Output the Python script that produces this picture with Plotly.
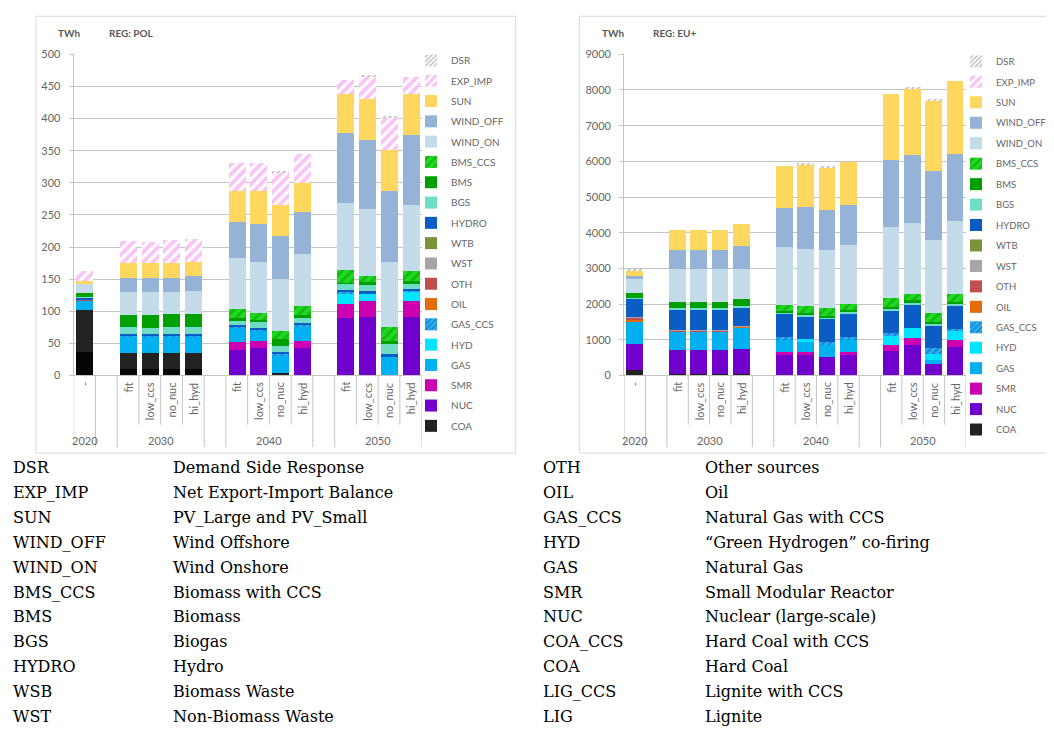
import plotly.graph_objects as go

# The page has an 8px body margin; positions below are page pixels of the target.
OFF = 8
W, H = 1054, 733

# ---------------- data ----------------
SCEN = ["fit", "low_ccs", "no_nuc", "hi_hyd"]
GROUPS = [("2020", ["-"]), ("2030", SCEN), ("2040", SCEN), ("2050", SCEN)]

SERIES = ["LIG", "COA", "NUC", "SMR", "GAS", "HYD", "GAS_CCS", "OIL", "OTH", "WST",
          "WTB", "HYDRO", "BGS", "BMS", "BMS_CCS", "WIND_ON", "WIND_OFF", "SUN",
          "EXP_IMP", "DSR"]

# order of bars: 2020 -, 2030 x4, 2040 x4, 2050 x4  (TWh)
POL_LIG      = [36, 9, 9, 9, 9, 0, 0, 0, 0, 0, 0, 0, 0]
POL_COA      = [65, 25, 25, 25, 25, 0, 0, 3, 0, 0, 0, 0, 0]
POL_NUC      = [0, 0, 0, 0, 0, 40, 42, 0, 42, 88.6, 91, 0, 91]
POL_SMR      = [0, 0, 0, 0, 0, 11, 10.5, 0, 10.5, 23, 24, 0, 24]
POL_GAS      = [15, 27, 27, 27, 26, 23, 16.5, 27, 23, 0, 0, 28, 0]
POL_HYD      = [0, 0, 0, 0, 0, 0, 0, 0, 0, 15.4, 11, 0, 14.6]
POL_GAS_CCS  = [0, 1, 1, 1, 2, 2, 2, 4, 3, 2, 0, 0, 2]
POL_OIL      = [0.5, 0, 0, 0, 0, 0, 0, 0, 0, 0, 0, 0, 0]
POL_OTH      = [1, 0, 0, 0, 0, 0, 0, 0, 0, 0, 0, 0, 0]
POL_WST      = [0.5, 0, 0, 0, 0, 0, 0, 0, 0, 0, 0, 0, 0]
POL_WTB      = [0, 0, 0, 0, 0, 0, 0, 0, 0, 0, 0, 0, 0]
POL_HYDRO    = [2.5, 2, 2, 2, 2, 2, 2, 2, 3, 4, 5, 5, 3]
POL_BGS      = [1, 11, 10, 11, 11, 7, 10, 10, 7.5, 9, 9, 17, 7.7]
POL_BMS      = [7, 19, 19, 20, 21, 4, 3, 10, 5, 2, 5, 2.5, 5]
POL_BMS_CCS  = [0, 0, 0, 0, 0, 14, 11, 13, 14.5, 20, 10, 22, 14.5]
POL_WIND_ON  = [15, 35, 36, 35, 35, 80, 80, 80, 80, 104, 103, 102, 103.5]
POL_WIND_OFF = [0, 23, 22, 22, 23, 55, 59, 67, 65, 108.5, 108.5, 110, 108.6]
POL_SUN      = [2.5, 22, 23, 22, 22, 48, 51, 49, 45.5, 60.5, 63, 64, 64]
POL_EXP_IMP  = [15.5, 35, 34, 36, 36, 45, 43, 50, 45.5, 23, 36, 50, 27]
POL_DSR      = [0, 0, 0, 0, 0, 0, 0, 3, 0, 0, 2.5, 3.5, 0]

EU_LIG      = [0, 0, 0, 0, 0, 0, 0, 0, 0, 0, 0, 0, 0]
EU_COA      = [157, 20, 20, 20, 20, 0, 0, 0, 0, 0, 0, 0, 0]
EU_NUC      = [718, 689, 689, 689, 717, 553, 553, 507, 571, 672, 857, 322, 801]
EU_SMR      = [0, 0, 0, 0, 0, 92, 92, 0, 74, 185, 184, 0, 184]
EU_GAS      = [626, 507, 507, 507, 598, 368, 276, 350, 340, 0, 0, 111, 0]
EU_HYD      = [0, 0, 0, 0, 0, 0, 92, 0, 0, 248, 294, 166, 258]
EU_GAS_CCS  = [0, 0, 0, 0, 0, 46, 0, 73, 74, 74, 0, 156, 56]
EU_OIL      = [70, 20, 20, 20, 20, 0, 0, 0, 0, 0, 0, 0, 0]
EU_OTH      = [40, 10, 10, 10, 10, 0, 0, 0, 0, 0, 0, 0, 0]
EU_WST      = [16, 16, 16, 16, 16, 0, 0, 0, 0, 0, 0, 0, 0]
EU_WTB      = [0, 0, 0, 0, 0, 0, 0, 0, 0, 0, 0, 0, 0]
EU_HYDRO    = [510, 552, 552, 552, 507, 645, 626, 636, 663, 635, 645, 627, 654]
EU_BGS      = [30, 65, 65, 65, 65, 64, 74, 64, 56, 56, 55, 73, 55]
EU_BMS      = [135, 166, 166, 166, 184, 40, 40, 40, 40, 40, 60, 40, 40]
EU_BMS_CCS  = [0, 0, 0, 0, 0, 172, 181, 218, 190, 254, 180, 255, 236]
EU_WIND_ON  = [396, 921, 921, 921, 838, 1612, 1593, 1612, 1630, 1999, 1989, 2045, 2026]
EU_WIND_OFF = [84, 552, 552, 552, 645, 1105, 1198, 1123, 1124, 1870, 1907, 1915, 1888]
EU_SUN      = [148, 562, 562, 562, 607, 1170, 1188, 1198, 1225, 1860, 1860, 1999, 2045]
EU_EXP_IMP  = [0, 0, 0, 0, 0, 0, 0, 0, 0, 0, 0, 0, 0]
EU_DSR      = [30, 0, 0, 0, 0, 0, 28, 28, 0, 0, 28, 37, 0]

TABLE_LEFT = [("DSR", "Demand Side Response"), ("EXP_IMP", "Net Export-Import Balance"),
              ("SUN", "PV_Large and PV_Small"), ("WIND_OFF", "Wind Offshore"),
              ("WIND_ON", "Wind Onshore"), ("BMS_CCS", "Biomass with CCS"),
              ("BMS", "Biomass"), ("BGS", "Biogas"), ("HYDRO", "Hydro"),
              ("WSB", "Biomass Waste"), ("WST", "Non-Biomass Waste")]
TABLE_RIGHT = [("OTH", "Other sources"), ("OIL", "Oil"), ("GAS_CCS", "Natural Gas with CCS"),
               ("HYD", "\u201cGreen Hydrogen\u201d co-firing"), ("GAS", "Natural Gas"),
               ("SMR", "Small Modular Reactor"), ("NUC", "Nuclear (large-scale)"),
               ("COA_CCS", "Hard Coal with CCS"), ("COA", "Hard Coal"),
               ("LIG_CCS", "Lignite with CCS"), ("LIG", "Lignite")]

POL = {s: globals()["POL_" + s] for s in SERIES}
EU = {s: globals()["EU_" + s] for s in SERIES}

# ---------------- styles ----------------
COLORS = {"LIG": "#050505", "COA": "#222222", "NUC": "#7000cc", "SMR": "#cc00b0",
          "GAS": "#00b0f0", "HYD": "#00e4ff", "GAS_CCS": "#1a86d0", "OIL": "#e36c09",
          "OTH": "#c0504d", "WST": "#a6a6a6", "WTB": "#77933c", "HYDRO": "#0b5cc4",
          "BGS": "#6fdcc6", "BMS": "#00a000", "BMS_CCS": "#1ed21e", "WIND_ON": "#c4dcea",
          "WIND_OFF": "#95b3d7", "SUN": "#ffd75e", "EXP_IMP": "#ffffff", "DSR": "#ffffff"}
PATTERNS = {
    "EXP_IMP": dict(shape="/", fgcolor="#f585f0", bgcolor="#ffffff", size=7, solidity=0.55),
    "DSR": dict(shape="/", fgcolor="#707070", bgcolor="#ffffff", size=4, solidity=0.4),
    "BMS_CCS": dict(shape="/", fgcolor="#009a00", bgcolor="#22d822", size=7, solidity=0.4),
    "GAS_CCS": dict(shape="/", fgcolor="#0b5cad", bgcolor="#2ab0f0", size=5, solidity=0.45),
}

GRAY = "#c4c4c4"
TXT = "#666666"
FONT = "Lato"

def px_x(x):
    return (x - OFF) / W

def px_y(y):
    return 1 - (y - OFF) / H

# slot positions (blank spacer slot between year groups)
x_pos, scen_lbl, spans = [], [], []
slot = 0
for gi, (yr, scs) in enumerate(GROUPS):
    if gi > 0:
        slot += 1
    start = slot
    for s in scs:
        x_pos.append(slot)
        scen_lbl.append(s)
        slot += 1
    spans.append((yr, start, slot - 1))
N_SLOTS = slot

full_div = sorted({b for _, a, e in spans for b in (a - 0.5, e + 0.5)})
short_div = [x + 0.5 for _, a, e in spans for x in range(a, e)]

fig = go.Figure()

for data, xa, ya, leg in [(POL, "x", "y", "legend"), (EU, "x2", "y2", "legend2")]:
    for i, s in enumerate(SERIES):
        m = dict(color=COLORS[s], line=dict(width=0))
        if s in PATTERNS:
            m["pattern"] = PATTERNS[s]
        fig.add_trace(go.Bar(
            x=x_pos, y=data[s], name=s, marker=m, width=0.78,
            xaxis=xa, yaxis=ya, legend=leg, legendgroup=s,
            legendrank=1000 - i,
            showlegend=(s != "LIG"),
        ))

Y0, Y1 = px_y(375), px_y(48)
common_x = dict(range=[-0.5, N_SLOTS - 0.5], showticklabels=False, showgrid=False,
                zeroline=False, showline=True, linecolor=GRAY, linewidth=1, ticks="")
common_y = dict(showgrid=True, gridcolor=GRAY, gridwidth=1, zeroline=False,
                showline=True, linecolor=GRAY, ticks="outside", ticklen=4,
                tickcolor=GRAY, ticklabelstandoff=6,
                tickfont=dict(family=FONT, size=11, color=TXT))

fig.update_layout(
    width=W, height=H, autosize=False,
    margin=dict(l=0, r=0, t=0, b=0),
    paper_bgcolor="white", plot_bgcolor="white",
    barmode="stack", bargap=0,
    xaxis=dict(domain=[px_x(73.7), px_x(421.6)], anchor="y", **common_x),
    yaxis=dict(domain=[Y0, Y1], anchor="x", range=[0, 500], dtick=50, **common_y),
    xaxis2=dict(domain=[px_x(624.2), px_x(966)], anchor="y2", **common_x),
    yaxis2=dict(domain=[Y0, Y1], anchor="x2", range=[0, 9000], dtick=1000, **common_y),
    legend=dict(x=px_x(411), y=px_y(39.5), xanchor="left", yanchor="top",
                traceorder="grouped", tracegroupgap=1.3, bgcolor="rgba(0,0,0,0)",
                font=dict(family=FONT, size=10, color=TXT), itemclick=False),
    legend2=dict(x=px_x(956), y=px_y(40.5), xanchor="left", yanchor="top",
                 traceorder="grouped", tracegroupgap=1.45, bgcolor="rgba(0,0,0,0)",
                 font=dict(family=FONT, size=9.5, color=TXT), itemclick=False),
    showlegend=True,
)

shapes = []
annotations = []

# frames
shapes.append(dict(type="rect", xref="paper", yref="paper", x0=px_x(36), x1=px_x(515.7),
                   y0=px_y(454), y1=px_y(9.3), line=dict(color="#d9d9d9", width=1)))
shapes.append(dict(type="rect", xref="paper", yref="paper", x0=px_x(579.3), x1=px_x(1070),
                   y0=px_y(454), y1=px_y(9.3), line=dict(color="#d9d9d9", width=1)))

for xa, title_x, reg_x, reg in [("x", 56, 107, "REG: POL"), ("x2", 600, 651, "REG: EU+")]:
    for b in full_div:
        shapes.append(dict(type="line", xref=xa, yref="paper", x0=b, x1=b,
                           y0=px_y(375), y1=px_y(448), line=dict(color=GRAY, width=1)))
    for b in short_div:
        shapes.append(dict(type="line", xref=xa, yref="paper", x0=b, x1=b,
                           y0=px_y(375), y1=px_y(425), line=dict(color=GRAY, width=1)))
    for xp, lbl in zip(x_pos, scen_lbl):
        annotations.append(dict(xref=xa, yref="paper", x=xp, y=px_y(380), text=lbl,
                                textangle=-90, xanchor="center", yanchor="top", showarrow=False,
                                font=dict(family=FONT, size=11, color=TXT)))
    for yr, a, e in spans:
        annotations.append(dict(xref=xa, yref="paper", x=(a + e) / 2, y=px_y(441.5), text=yr,
                                xanchor="center", yanchor="middle", showarrow=False,
                                font=dict(family=FONT, size=11, color=TXT)))
    annotations.append(dict(xref="paper", yref="paper", x=px_x(title_x), y=px_y(26), text="<b>TWh</b>",
                            xanchor="left", yanchor="middle", showarrow=False,
                            font=dict(family=FONT, size=10, color="#595959")))
    annotations.append(dict(xref="paper", yref="paper", x=px_x(reg_x), y=px_y(26), text="<b>%s</b>" % reg,
                            xanchor="left", yanchor="middle", showarrow=False,
                            font=dict(family=FONT, size=10, color="#595959")))

# definitions table
for rows, c1, c2 in [(TABLE_LEFT, 11, 171), (TABLE_RIGHT, 541, 703)]:
    for i, (code, desc) in enumerate(rows):
        yy = px_y(469 + i * 25.3)
        annotations.append(dict(xref="paper", yref="paper", x=px_x(c1), y=yy, text=code,
                                xanchor="left", yanchor="middle", showarrow=False,
                                font=dict(family="DejaVu Serif", size=16, color="black")))
        annotations.append(dict(xref="paper", yref="paper", x=px_x(c2), y=yy, text=desc,
                                xanchor="left", yanchor="middle", showarrow=False,
                                font=dict(family="DejaVu Serif", size=16, color="black")))

fig.update_layout(shapes=shapes, annotations=annotations)
fig.write_html("out.html")
